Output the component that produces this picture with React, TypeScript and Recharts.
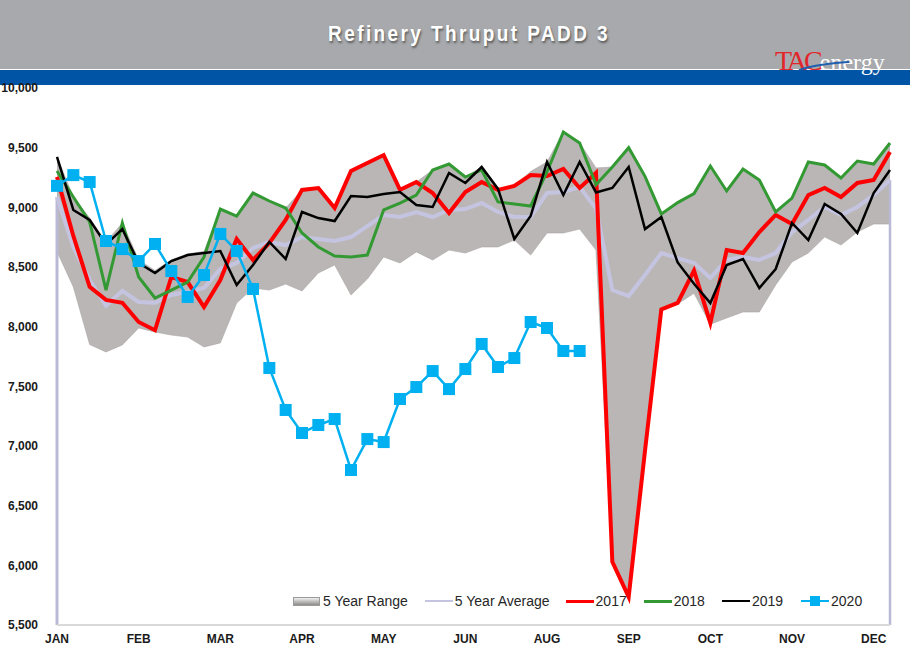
import React from 'react';
import { ComposedChart, Area, Line, XAxis, YAxis, ReferenceLine } from 'recharts';

// weekly PADD 3 refinery runs (kb/d), week 0 = first week of Jan
const monthTicks = [0, 5, 10, 15, 20, 25, 30, 35, 40, 45, 50];
const monthLabels = ['JAN', 'FEB', 'MAR', 'APR', 'MAY', 'JUN', 'AUG', 'SEP', 'OCT', 'NOV', 'DEC'];
const yTicks = [5500, 6000, 6500, 7000, 7500, 8000, 8500, 9000, 9500, 10000];

const rangeLow = [
  8630, 8333, 7850, 7788, 7847, 7989, 7955, 7930, 7913, 7830, 7864, 8198, 8324,
  8307, 8357, 8299, 8450, 8517, 8265, 8399, 8584, 8534, 8626, 8559, 8642, 8617,
  8668, 8668, 8726, 8600, 8785, 8785, 8818, 8642, 6030, 5735, 6960, 8140, 8190,
  8280, 8020, 8073, 8123, 8123, 8349, 8542, 8617, 8752, 8684, 8793, 8860, 8860,
];
const rangeHigh = [
  9422, 9087, 8911, 8710, 8869, 8560, 8470, 8560, 8610, 8630, 8986, 8927, 9120,
  9053, 8994, 9146, 9162, 9000, 9304, 9372, 9438, 9146, 9212, 9313, 9363, 9254,
  9338, 9154, 9179, 9300, 9380, 9631, 9539, 9330, 9338, 9500, 9260, 8945, 9040,
  9115, 9346, 9137, 9321, 9229, 8961, 9078, 9380, 9355, 9246, 9388, 9363, 9539,
];
const avg5y = [
  9087, 8668, 8391, 8175, 8300, 8207, 8200, 8265, 8290, 8324, 8483, 8534, 8659,
  8710, 8684, 8751, 8735, 8718, 8751, 8843, 8936, 8919, 8961, 8919, 8978, 8986,
  9036, 8961, 8919, 8919, 9120, 9129, 9170, 8990, 8307, 8257, 8433, 8617, 8575,
  8534, 8408, 8559, 8584, 8559, 8617, 8793, 8894, 9003, 8936, 9003, 9103, 9229,
];
const runs2017 = [
  9255, 8760, 8333, 8224, 8200, 8039, 7970, 8416, 8374, 8165, 8391, 8735, 8559,
  8701, 8894, 9146, 9162, 8994, 9304, 9372, 9438, 9146, 9212, 9120, 8952, 9129,
  9212, 9146, 9179, 9271, 9262, 9321, 9162, 9288, 6030, 5735, 6960, 8145, 8200,
  8470, 8031, 8642, 8617, 8793, 8936, 8860, 9103, 9162, 9086, 9204, 9229, 9464,
];
const runs2018 = [
  9304, 9087, 8877, 8307, 8869, 8416, 8240, 8307, 8374, 8584, 8986, 8927, 9120,
  9053, 8994, 8785, 8668, 8592, 8584, 8600, 8978, 9036, 9103, 9313, 9363, 9254,
  9313, 9045, 9028, 9011, 9296, 9631, 9539, 9190, 9338, 9500, 9260, 8945, 9040,
  9115, 9346, 9137, 9321, 9229, 8961, 9078, 9380, 9355, 9246, 9388, 9363, 9539,
];
const runs2019 = [
  9422, 8978, 8894, 8690, 8818, 8534, 8450, 8550, 8600, 8617, 8634, 8349, 8517,
  8710, 8567, 8961, 8910, 8885, 9095, 9087, 9112, 9129, 9020, 9003, 9288, 9204,
  9338, 9154, 8735, 8927, 9380, 9103, 9380, 9125, 9162, 9338, 8818, 8919, 8538,
  8360, 8198, 8517, 8567, 8324, 8483, 8869, 8726, 9028, 8944, 8785, 9120, 9313,
];
const runs2020 = [
  9180, 9270, 9212, 8718, 8650, 8550, 8693, 8466, 8249, 8433, 8777, 8634, 8316,
  7654, 7302, 7109, 7176, 7226, 6799, 7058, 7033, 7394, 7494, 7628, 7477, 7645,
  7855, 7662, 7737, 8039, 7989, 7796, 7796,
];

const data = avg5y.map((avg, week) => ({
  week,
  range: [rangeLow[week], rangeHigh[week]],
  avg,
  y2017: runs2017[week],
  y2018: runs2018[week],
  y2019: runs2019[week],
  y2020: week < runs2020.length ? runs2020[week] : null,
}));

const COLORS = {
  range: '#bab6b6',
  avg: '#c4c4e0',
  y2017: '#ff0000',
  y2018: '#339933',
  y2019: '#000000',
  y2020: '#00b0f0',
};

const SquareDot = (props: any) => {
  const { cx, cy, index, value } = props;
  if (value == null || cy == null) return <g key={index} />;
  return <rect key={index} x={cx - 6} y={cy - 6} width={12} height={12} fill={COLORS.y2020} />;
};

const tickStyle = { fontFamily: 'Arial, "Liberation Sans", sans-serif', fontSize: 12, fontWeight: 700, fill: '#1a1a1a' };

const LegendLine = ({ color, width, marker }: { color: string; width: number; marker?: boolean }) => (
  <span style={{ position: 'relative', display: 'inline-block', width: 28, height: 12, marginRight: 2 }}>
    <span style={{ position: 'absolute', left: 0, right: 0, top: 6 - width / 2, height: width, background: color }} />
    {marker && <span style={{ position: 'absolute', left: 9, top: 1, width: 10, height: 10, background: color }} />}
  </span>
);

const Legend5y = () => (
  <div
    style={{
      position: 'absolute',
      left: 293,
      top: 593,
      display: 'flex',
      alignItems: 'center',
      fontFamily: 'Arial, "Liberation Sans", sans-serif',
      fontSize: 14,
      color: '#262626',
      whiteSpace: 'nowrap',
    }}
  >
    <span style={{ display: 'inline-flex', alignItems: 'center', marginRight: 17 }}>
      <span
        style={{
          display: 'inline-block',
          width: 25,
          height: 7,
          marginRight: 3,
          border: '1px solid #9a9a9a',
          background: 'linear-gradient(#f0f0f0, #b5b2b2 60%, #8f8c8c)',
        }}
      />
      5 Year Range
    </span>
    <span style={{ display: 'inline-flex', alignItems: 'center', marginRight: 16 }}>
      <LegendLine color={COLORS.avg} width={2} />5 Year Average
    </span>
    <span style={{ display: 'inline-flex', alignItems: 'center', marginRight: 17 }}>
      <LegendLine color={COLORS.y2017} width={3} />2017
    </span>
    <span style={{ display: 'inline-flex', alignItems: 'center', marginRight: 17 }}>
      <LegendLine color={COLORS.y2018} width={3} />2018
    </span>
    <span style={{ display: 'inline-flex', alignItems: 'center', marginRight: 18 }}>
      <LegendLine color={COLORS.y2019} width={2.5} />2019
    </span>
    <span style={{ display: 'inline-flex', alignItems: 'center' }}>
      <LegendLine color={COLORS.y2020} width={2} marker />2020
    </span>
  </div>
);

export default function App() {
  return (
    <div style={{ position: 'absolute', left: 0, top: 0, width: 910, height: 661, overflow: 'hidden', background: '#fff' }}>
      {/* header band */}
      <div style={{ position: 'absolute', left: 0, top: 0, width: 910, height: 69, background: '#a7a9ac' }} />
      <div style={{ position: 'absolute', left: 0, top: 70, width: 910, height: 15, background: '#0054a5' }} />
      <div
        style={{
          position: 'absolute',
          left: 0,
          top: 23,
          width: 938,
          textAlign: 'center',
          fontFamily: 'Arial, "Liberation Sans", sans-serif',
          fontWeight: 700,
          fontSize: 19,
          letterSpacing: 2.4,
          color: '#fff',
          textShadow: '1px 2px 2px #5a5a5a',
          transform: 'scaleY(1.12)',
        }}
      >
        Refinery Thruput PADD 3
      </div>
      <div
        style={{
          position: 'absolute',
          left: 775,
          top: 47,
          fontFamily: '"Liberation Serif", "DejaVu Serif", serif',
          whiteSpace: 'nowrap',
          lineHeight: 1,
        }}
      >
        <span style={{ color: '#e3262b', fontSize: 28, letterSpacing: -3 }}>TAC</span>
        <span style={{ color: '#fff', fontSize: 24 }}>energy</span>
        <svg width={60} height={14} style={{ position: 'absolute', left: 22, top: 12 }}>
          <path d="M2 11 Q 20 5 52 3" stroke="#1f5fae" strokeWidth={1.8} fill="none" />
        </svg>
      </div>

      <div style={{ position: 'absolute', left: 0, top: 0 }}>
        <ComposedChart width={910} height={661} data={data} margin={{ top: 88, right: 20, bottom: 6, left: 7 }}>
          <XAxis
            type="number"
            dataKey="week"
            domain={[0, 51]}
            ticks={monthTicks}
            interval={0}
            tickFormatter={(v: number) => monthLabels[monthTicks.indexOf(v)]}
            tick={tickStyle}
            tickLine={false}
            tickSize={0}
            tickMargin={9}
            axisLine={{ stroke: '#d9d9d9', strokeWidth: 2 }}
            height={30}
          />
          <YAxis
            type="number"
            domain={[5500, 10000]}
            ticks={yTicks}
            interval={0}
            tickFormatter={(v: number) => v.toLocaleString('en-US')}
            tick={tickStyle}
            tickLine={false}
            tickSize={0}
            tickMargin={19}
            axisLine={false}
            width={50}
          />
          <Area
            type="linear"
            dataKey="range"
            fill={COLORS.range}
            fillOpacity={1}
            stroke="#a9a5a5"
            strokeWidth={0.6}
            isAnimationActive={false}
          />
          <ReferenceLine
            segment={[{ x: 0, y: 5500 }, { x: 0, y: avg5y[0] }]}
            stroke="#b9b9d6"
            strokeWidth={3}
            ifOverflow="visible"
          />
          <ReferenceLine
            segment={[{ x: 51, y: 5500 }, { x: 51, y: avg5y[avg5y.length - 1] }]}
            stroke="#b9b9d6"
            strokeWidth={2.5}
            ifOverflow="visible"
          />
          <Line type="linear" dataKey="avg" stroke={COLORS.avg} strokeWidth={4} dot={false} isAnimationActive={false} />
          <Line type="linear" dataKey="y2017" stroke={COLORS.y2017} strokeWidth={4} dot={false} isAnimationActive={false} />
          <Line type="linear" dataKey="y2018" stroke={COLORS.y2018} strokeWidth={3} dot={false} isAnimationActive={false} />
          <Line type="linear" dataKey="y2019" stroke={COLORS.y2019} strokeWidth={2.5} dot={false} isAnimationActive={false} />
          <Line
            type="linear"
            dataKey="y2020"
            stroke={COLORS.y2020}
            strokeWidth={2.5}
            dot={SquareDot}
            isAnimationActive={false}
          />
        </ComposedChart>
      </div>
      <Legend5y />
    </div>
  );
}
